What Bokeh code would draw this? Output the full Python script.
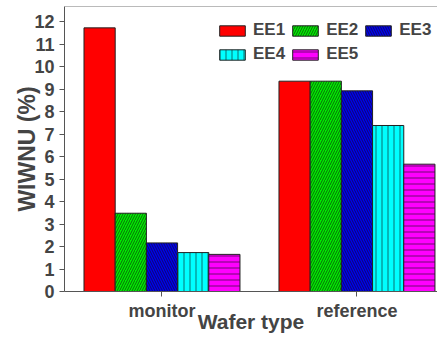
from bokeh.plotting import figure
from bokeh.models import ColumnDataSource, Range1d, FixedTicker, Legend, LegendItem, Span
from bokeh.transform import dodge
from bokeh.embed import file_html
from bokeh.resources import INLINE

categories = ["monitor", "reference"]
series = ["EE1", "EE2", "EE3", "EE4", "EE5"]
ee1 = [11.72, 9.35]
ee2 = [3.48, 9.35]
ee3 = [2.16, 8.92]
ee4 = [1.73, 7.38]
ee5 = [1.65, 5.66]
y_ticks = list(range(0, 13))

colors = ["#ff0000", "#00ee00", "#0000ee", "#00ffff", "#ff00ff"]
hatches = [" ", "/", "\\", "|", "-"]
hscales = [12, 5, 5, 6, 6]

FONT = "Liberation Sans"
src = ColumnDataSource(dict(x=[i + 0.5 for i in range(len(categories))],
                            EE1=ee1, EE2=ee2, EE3=ee3, EE4=ee4, EE5=ee5))

YMAX = 12.67
p = figure(width=437, height=337, output_backend="svg", toolbar_location=None,
           x_range=Range1d(0, 1.913), y_range=Range1d(0, YMAX),
           min_border_left=64, min_border_right=0, min_border_top=6, min_border_bottom=46)
p.grid.visible = False
p.outline_line_color = None
p.background_fill_color = "white"

bw = 0.16
renderers = []
for i, s in enumerate(series):
    r = p.vbar(x=dodge("x", (i - 2) * bw, range=p.x_range), top=s, width=bw, source=src,
               fill_color=colors[i], line_color="#222222", line_width=1,
               hatch_pattern=hatches[i], hatch_color="#111111", hatch_weight=0.6,
               hatch_scale=hscales[i])
    renderers.append(r)

p.add_layout(Span(location=YMAX, dimension="width", line_color="#777777", line_width=1))

ya = p.yaxis[0]
ya.ticker = FixedTicker(ticks=y_ticks)
ya.major_tick_out = 5
ya.major_tick_in = 0
ya.minor_tick_line_color = None
ya.axis_line_color = "#555555"
ya.major_tick_line_color = "#555555"
ya.major_label_text_font = FONT
ya.major_label_text_font_style = "bold"
ya.major_label_text_font_size = "18px"
ya.major_label_standoff = 5
ya.axis_label = "WIWNU (%)"
ya.axis_label_text_font = FONT
ya.axis_label_text_font_style = "bold"
ya.axis_label_text_font_size = "23px"
ya.axis_label_standoff = -9

xa = p.xaxis[0]
xa.ticker = FixedTicker(ticks=[i + 0.5 for i in range(len(categories))])
xa.major_label_overrides = {i + 0.5: c for i, c in enumerate(categories)}
xa.major_tick_out = 5
xa.major_tick_in = 0
xa.minor_tick_line_color = None
xa.axis_line_color = "#555555"
xa.major_tick_line_color = "#555555"
xa.major_label_text_font = FONT
xa.major_label_text_font_style = "bold"
xa.major_label_text_font_size = "18px"
xa.major_label_standoff = 4
xa.axis_label = "Wafer type"
xa.axis_label_text_font = FONT
xa.axis_label_text_font_style = "bold"
xa.axis_label_text_font_size = "21px"
xa.axis_label_standoff = -14

legend = Legend(items=[LegendItem(label=s, renderers=[renderers[i]]) for i, s in enumerate(series)],
                orientation="horizontal", ncols=3, location=(152, 227),
                padding=0, margin=0, spacing=4, label_standoff=5,
                glyph_width=32, glyph_height=13, label_height=20,
                label_text_font=FONT, label_text_font_style="bold", label_text_font_size="17px",
                border_line_color=None, background_fill_alpha=0)
p.add_layout(legend, "center")

open("out.html", "w").write(file_html(p, INLINE))
